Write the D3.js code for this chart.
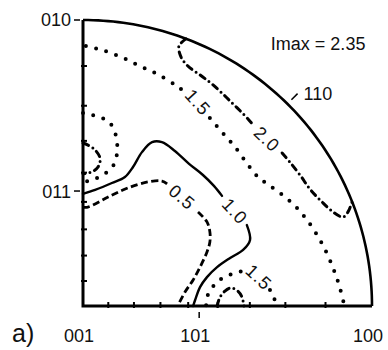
<!DOCTYPE html>
<html>
<head>
<meta charset="utf-8">
<script src="https://cdn.jsdelivr.net/npm/d3@7"></script>
<style>
  body { margin: 0; background: #fff; }
  text { font-family: "Liberation Sans", Arial, sans-serif; fill: #111; }
</style>
</head>
<body>
<div id="main"></div>
<script>
// contour lines, in projection units (0..100 = centre..edge of the quarter circle)
const line05a = [[0,34.6],[1.7,34.6],[8.7,38.1],[15.6,41.3],[22.5,43.4],[27.3,43.7],[29.1,42.7]]
const line05b = [[39.8,32.9],[42.9,29.4],[43.9,25.9],[43.9,22.4],[42.9,18.9],[40.5,13.6],[38.1,9.1],[35.3,4.9],[32.9,0.3]]

const line10a = [[0,39.2],[4.2,40.6],[10,43],[14.5,45.1],[17.3,48.6],[20.4,53.8],[23.9,57.3],[27.3,57.3],[31.8,54.2],[36.7,49.7],[41.5,45.8],[45.3,42],[48.1,38.5]]
const line10b = [[56.7,28.3],[57.8,23.1],[55.4,19.6],[50.9,16.8],[46.4,13.6],[42.9,10.1],[40.5,6.6],[38.8,2.1],[38.1,0]]

const line15a = [[1,90.9],[6.6,89.5],[13.1,87.1],[19.7,83.9],[26.3,80.8],[32.5,76.9],[35.6,74.5]]
const line15b = [[43.9,65.7],[48.1,60.8],[52.6,55.6],[57.1,49.3],[60.6,45.1],[64.7,42],[69.9,38.1],[74.4,33.9],[78.5,28.7],[82,23.1],[84.8,17.5],[87.2,11.5],[88.9,6.3],[90.3,0.7]]
const line15left = [[0,67.5],[3.1,66.8],[6.6,65.7],[9.3,64],[11.1,60.5],[11.8,57],[11.8,53.8],[11.1,50.3],[9.3,47.6],[6.6,45.8],[3.5,44.1],[0,43.4]]
const line15lowA = [[42.6,0.3],[42.9,3.1],[44.6,6.3],[46.7,8.7],[49.8,10.5],[53.6,11.9],[55.7,12.2]]
const line15lowB = [[64.7,5.6],[66.1,2.8],[66.8,0.3]]

const line20a = [[35.6,93.4],[33.2,90.9],[33.9,87.1],[36.3,83.9],[40.5,80.8],[45,77.3],[50.9,71.7],[57.1,65.4],[59.2,62.9]]
const line20b = [[68.9,53.5],[71.6,50.3],[75.1,45.8],[78.5,40.9],[82.4,36.7],[86.5,32.9],[90,31.1],[91.7,32.9],[93.1,36.4]]
const line20left = [[0,57],[3.5,55.2],[5.9,51.7],[5.2,48.6],[3.1,46.9],[0,46.2]]
const line20low = [[46.4,0],[47.4,3.1],[49.1,5.2],[51.2,6.3],[53.6,5.2],[55,3.1],[55.7,0]]

// contour labels: [x, y, text, rotation]
const levelLabels = [
  [39.8, 71.3, "1.5", 48],
  [63.7, 58.4, "2.0", 43],
  [34.3, 38.1, "0.5", 40],
  [52.6, 33.2, "1.0", 47],
  [60.9, 10.1, "1.5", 43]
]

// stereographic tick angles (deg) along the two straight edges
const tickDegrees = [10, 20, 30, 40, 50, 60, 70, 80]
const poleLeft = [[100, "010"], [40.2, "011"]]
const poleBottom = [[0, "001"], [40.2, "101"], [100, "100"]]
const imaxText = "Imax = 2.35"

const styles = {
  "0.5": {dash: "7,3.5", width: 2.8, cap: "butt"},
  "1.0": {dash: null, width: 2.4, cap: "round"},
  "1.5": {dash: "0,10.5", width: 4, cap: "round"},
  "2.0": {dash: "6,5,0,5", width: 3, cap: "round"}
}
const contours = [
  ["0.5", line05a], ["0.5", line05b],
  ["1.0", line10a], ["1.0", line10b],
  ["1.5", line15a], ["1.5", line15b], ["1.5", line15left], ["1.5", line15lowA], ["1.5", line15lowB],
  ["2.0", line20a], ["2.0", line20b], ["2.0", line20left], ["2.0", line20low]
]

const svg = d3.select('div#main').append('svg')
  .attr('width', 388)
  .attr('height', 350)

const x = d3.scaleLinear().domain([0, 100]).range([83, 372])
const y = d3.scaleLinear().domain([0, 100]).range([306, 20])

const line = d3.line()
  .x((d) => x(d[0]))
  .y((d) => y(d[1]))
  .curve(d3.curveCatmullRom.alpha(0.5))

// frame: two edges and the arc
const arcPts = d3.range(0, 90.5, 1).map((a) => [100 * Math.cos(a * Math.PI / 180), 100 * Math.sin(a * Math.PI / 180)])
const frame = svg.append('g').attr('fill', 'none').attr('stroke', '#000')
frame.append('path')
  .attr('d', d3.line().x((d) => x(d[0])).y((d) => y(d[1]))([[0, 100], [0, 0], [100, 0]]))
  .attr('stroke-width', 3)
  .attr('stroke-linejoin', 'miter')
frame.append('path')
  .attr('d', d3.line().x((d) => x(d[0])).y((d) => y(d[1]))(arcPts))
  .attr('stroke-width', 2.6)

// minor ticks
const tickPos = tickDegrees.map((t) => 100 * Math.tan(t * Math.PI / 360))
frame.selectAll('line.lt')
  .data(tickPos)
  .enter()
  .append('line')
    .attr('class', 'lt')
    .attr('x1', x(0) - 2).attr('x2', x(0) + 4)
    .attr('y1', (d) => y(d)).attr('y2', (d) => y(d))
    .attr('stroke-width', 2)
frame.selectAll('line.bt')
  .data(tickPos)
  .enter()
  .append('line')
    .attr('class', 'bt')
    .attr('y1', y(0) + 2).attr('y2', y(0) - 4)
    .attr('x1', (d) => x(d)).attr('x2', (d) => x(d))
    .attr('stroke-width', 2)

// pole ticks and labels
poleLeft.forEach(([v, s]) => {
  frame.append('line')
    .attr('x1', x(0) - 9).attr('x2', x(0) - 3)
    .attr('y1', y(v)).attr('y2', y(v))
    .attr('stroke-width', 1.5)
  svg.append('text')
    .attr('x', x(0) - 12).attr('y', y(v))
    .attr('dy', '0.36em')
    .attr('text-anchor', 'end')
    .attr('font-size', 18)
    .text(s)
})
poleBottom.forEach(([v, s]) => {
  if (v > 0 && v < 100) {
    frame.append('line')
      .attr('x1', x(v)).attr('x2', x(v))
      .attr('y1', y(0) + 6).attr('y2', y(0) + 12)
      .attr('stroke-width', 1.5)
  }
  svg.append('text')
    .attr('x', x(v) - 4).attr('y', 342)
    .attr('text-anchor', 'middle')
    .attr('font-size', 18)
    .text(s)
})

// 110 on the arc
const c45 = Math.cos(Math.PI / 4)
frame.append('line')
  .attr('x1', x(102 * c45)).attr('y1', y(102 * c45))
  .attr('x2', x(105 * c45)).attr('y2', y(105 * c45))
  .attr('stroke-width', 1.5)
svg.append('text')
  .attr('x', x(105 * c45) + 6).attr('y', y(105 * c45))
  .attr('dy', '0.36em')
  .attr('font-size', 18)
  .text("110")

svg.append('text')
  .attr('x', x(65)).attr('y', y(89.5))
  .attr('font-size', 18)
  .text(imaxText)

svg.append('text')
  .attr('x', 12).attr('y', 342)
  .attr('font-family', '"DejaVu Serif", "Liberation Serif", serif')
  .attr('font-size', 25)
  .text("a)")

// contours
const cg = svg.append('g').attr('fill', 'none').attr('stroke', '#000')
contours.forEach(([lev, pts]) => {
  const st = styles[lev]
  cg.append('path')
    .attr('d', line(pts))
    .attr('stroke-width', st.width)
    .attr('stroke-linecap', st.cap)
    .attr('stroke-dasharray', st.dash)
})

svg.selectAll('text.lev')
  .data(levelLabels)
  .enter()
  .append('text')
    .attr('class', 'lev')
    .attr('transform', (d) => `translate(${x(d[0])},${y(d[1])}) rotate(${d[3]})`)
    .attr('text-anchor', 'middle')
    .attr('dy', '0.36em')
    .attr('font-size', 18)
    .attr('letter-spacing', 1)
    .text((d) => d[2])
</script>
</body>
</html>
